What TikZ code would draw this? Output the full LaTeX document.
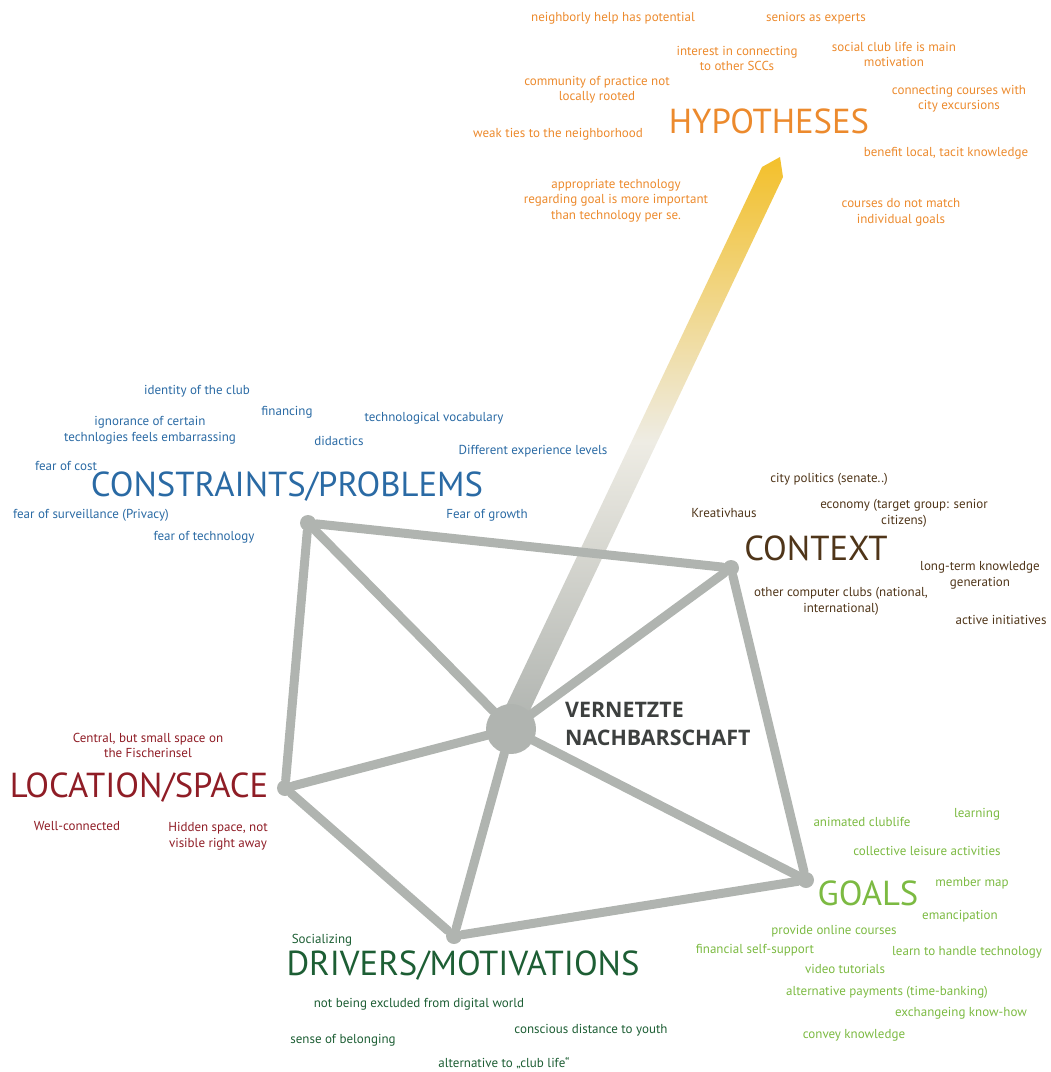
\documentclass[tikz,border=0pt]{standalone}
\usepackage{fontspec}
\setmainfont{PT Sans}
\newfontfamily\titlefont{Open Sans}

\definecolor{hypcol}{HTML}{EC8A2D}
\definecolor{concol}{HTML}{2A6AA4}
\definecolor{ctxcol}{HTML}{4F3519}
\definecolor{loccol}{HTML}{8F1D26}
\definecolor{goalcol}{HTML}{7CBA42}
\definecolor{drvcol}{HTML}{1D5E34}
\definecolor{netgray}{HTML}{B0B4B0}
\definecolor{hubtext}{HTML}{3D403F}
\definecolor{shaftyellow}{HTML}{F3C02B}
\definecolor{shaftlight}{HTML}{EEECE4}

\begin{document}
\begin{tikzpicture}[x=1pt, y=-1pt,
    note/.style={align=center, inner sep=0pt, yshift=-1.5pt, font=\fontsize{13}{15.5}\selectfont},
    head/.style={inner sep=0pt, font=\fontsize{34.7}{38}\selectfont},
    vertex/.style={circle, fill=netgray, minimum size=16pt, inner sep=0pt},
    hub/.style={circle, fill=netgray, minimum size=50pt, inner sep=0pt},
    edge/.style={draw=netgray, line width=9pt, line cap=round}]

    \useasboundingbox (0,0) rectangle (1051,1072);

    % shaft towards the hypotheses
    \coordinate (hubc) at (511,729);
    \shade[bottom color=netgray, top color=shaftyellow, middle color=shaftlight]
        (496,727) -- (762,167) -- (780,157) -- (783,177) -- (522,727) -- cycle;

    % network
    \node[hub] (hub) at (hubc) {};
    \node[vertex] (vcons) at (308,523) {};
    \node[vertex] (vctx) at (731,568) {};
    \node[vertex] (vloc) at (285,788) {};
    \node[vertex] (vgoal) at (806,880) {};
    \node[vertex] (vdrv) at (454,936) {};

    \draw[edge] (hub) -- (vcons);
    \draw[edge] (hub) -- (vctx);
    \draw[edge] (hub) -- (vloc);
    \draw[edge] (hub) -- (vgoal);
    \draw[edge] (hub) -- (vdrv);
    \draw[edge] (vcons) -- (vctx);
    \draw[edge] (vctx) -- (vgoal);
    \draw[edge] (vgoal) -- (vdrv);
    \draw[edge] (vdrv) -- (vloc);
    \draw[edge] (vloc) -- (vcons);

    \node[align=left, anchor=west, inner sep=0pt, text=hubtext,
        font=\titlefont\fontsize{21.4}{28}\selectfont\bfseries] (title) at (565,724)
        {VERNETZTE\\NACHBARSCHAFT};

    % hypotheses
    \begin{scope}[every node/.append style={text=hypcol}]
    \node[head] (hyp) at (769,121) {HYPOTHESES};
    \node[note] (h1) at (613,17) {neighborly help has potential};
    \node[note] (h2) at (816,17) {seniors as experts};
    \node[note] (h3) at (737,57) {interest in connecting\\to other SCCs};
    \node[note] (h4) at (894,53) {social club life is main\\motivation};
    \node[note] (h5) at (597,88) {community of practice not\\locally rooted};
    \node[note] (h6) at (959,97) {connecting courses with\\city excursions};
    \node[note] (h7) at (558,133) {weak ties to the neighborhood};
    \node[note] (h8) at (946,152) {benefit local, tacit knowledge};
    \node[note] (h9) at (616,199) {appropriate technology\\regarding goal is more important\\than technology per se.};
    \node[note] (h10) at (901,211) {courses do not match\\individual goals};
    \end{scope}

    % constraints
    \begin{scope}[every node/.append style={text=concol}]
    \node[head] (cons) at (287,487) {CONSTRAINTS/PROBLEMS};
    \node[note] (c1) at (197,390) {identity of the club};
    \node[note] (c2) at (287,411) {financing};
    \node[note] (c3) at (434,417) {technological vocabulary};
    \node[note] (c4) at (150,429) {ignorance of certain\\technlogies feels embarrassing};
    \node[note] (c5) at (339,439) {didactics};
    \node[note] (c6) at (533,450) {Different experience levels};
    \node[note] (c7) at (66,464) {fear of cost};
    \node[note] (c8) at (91,514) {fear of surveillance (Privacy)};
    \node[note] (c9) at (487,514) {Fear of growth};
    \node[note] (c10) at (204,536) {fear of technology};
    \end{scope}

    % context
    \begin{scope}[every node/.append style={text=ctxcol}]
    \node[head] (ctx) at (816,548) {CONTEXT};
    \node[note] (x1) at (829,478) {city politics (senate..)};
    \node[note] (x2) at (724,511) {Kreativhaus};
    \node[note] (x3) at (904,512) {economy (target group: senior\\citizens)};
    \node[note] (x4) at (980,574) {long-term knowledge\\generation};
    \node[note] (x5) at (841,600) {other computer clubs (national,\\international)};
    \node[note] (x6) at (1001,618) {active initiatives};
    \end{scope}

    % location
    \begin{scope}[every node/.append style={text=loccol}]
    \node[head] (loc) at (139,788) {LOCATION/SPACE};
    \node[note] (l1) at (148,744) {Central, but small space on\\the Fischerinsel};
    \node[note] (l2) at (77,825) {Well-connected};
    \node[note] (l3) at (218,835) {Hidden space, not\\visible right away};
    \end{scope}

    % goals
    \begin{scope}[every node/.append style={text=goalcol}]
    \node[head] (goal) at (868,893) {GOALS};
    \node[note] (g1) at (862,820) {animated clublife};
    \node[note] (g2) at (977,813) {learning};
    \node[note] (g3) at (927,849) {collective leisure activities};
    \node[note] (g4) at (972,882) {member map};
    \node[note] (g5) at (960,915) {emancipation};
    \node[note] (g6) at (834,930) {provide online courses};
    \node[note] (g7) at (755,949) {financial self-support};
    \node[note] (g8) at (967,951) {learn to handle technology};
    \node[note] (g9) at (845,967) {video tutorials};
    \node[note] (g10) at (887,991) {alternative payments (time-banking)};
    \node[note] (g11) at (961,1012) {exchangeing know-how};
    \node[note] (g12) at (854,1034) {convey knowledge};
    \end{scope}

    % drivers
    \begin{scope}[every node/.append style={text=drvcol}]
    \node[head] (drv) at (463,966) {DRIVERS/MOTIVATIONS};
    \node[note] (d1) at (322,939) {Socializing};
    \node[note] (d2) at (419,1003) {not being excluded from digital world};
    \node[note] (d3) at (591,1029) {conscious distance to youth};
    \node[note] (d4) at (343,1039) {sense of belonging};
    \node[note] (d5) at (504,1062) {alternative to „club life“};
    \end{scope}
\end{tikzpicture}
\end{document}
